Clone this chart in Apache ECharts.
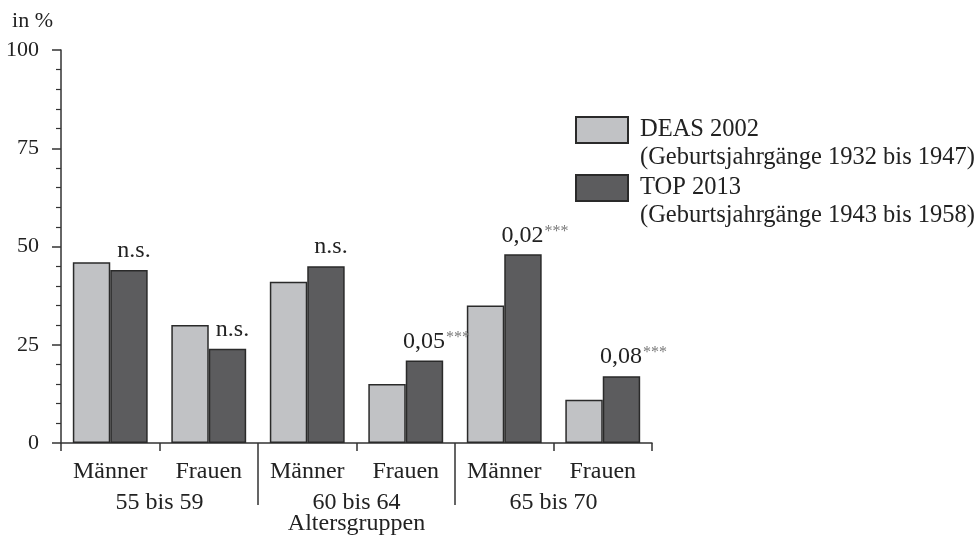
<!DOCTYPE html>
<html><head><meta charset="utf-8">
<script src="https://cdn.jsdelivr.net/npm/echarts@6/dist/echarts.min.js"></script>
<style>html,body{margin:0;padding:0;background:#fff}#c{width:979px;height:540px}</style>
</head><body><div id="c"></div>
<script>
const categories = ['Männer','Frauen','Männer','Frauen','Männer','Frauen'];
const groupLabels = ['55 bis 59','60 bis 64','65 bis 70'];
const deas2002 = [46,30,41,15,35,11];
const top2013 = [44,24,45,21,48,17];
const pValues = ['n.s.','n.s.','n.s.','0,05','0,02','0,08'];
const pStars = ['','','','***','***','***'];
const seriesNames = ['DEAS 2002','TOP 2013'];
const seriesSubtitles = ['(Geburtsjahrgänge 1932 bis 1947)','(Geburtsjahrgänge 1943 bis 1958)'];
const yTickValues = [0,25,50,75,100];

const FF = 'Liberation Serif';
const TXT = '#222';
const AX = '#333';
const perGroup = categories.length / groupLabels.length;

const chart = echarts.init(document.getElementById('c'), null, {renderer:'canvas'});
chart.setOption({
  animation:false,
  backgroundColor:'#fff',
  textStyle:{fontFamily:FF},
  grid:{left:61, right:327, top:50, bottom:97, containLabel:false, outerBoundsMode:'none'},
  legend: seriesNames.map((n,i)=>({
    data:[{name:n, icon:'rect'}], orient:'vertical', left:575, top:[88,146][i],
    itemWidth:52, itemHeight:26, padding:0, selectedMode:false,
    formatter: name => '\n' + name + '\n' + seriesSubtitles[i],
    textStyle:{fontFamily:FF, fontSize:24.5, color:TXT, lineHeight:28, padding:[0,0,0,7]}
  })),
  xAxis:[{
    type:'category', data:categories, boundaryGap:true,
    axisLine:{show:true, lineStyle:{color:AX, width:1.5}},
    axisTick:{show:true, length:8, interval:0, lineStyle:{color:AX, width:1.5}},
    axisLabel:{interval:0, margin:17, fontSize:24, color:TXT, fontFamily:FF},
    splitLine:{show:false}
  },{
    type:'value', position:'bottom', min:0, max:categories.length,
    axisLine:{show:false},
    axisTick:{show:true, length:62, customValues: groupLabels.slice(1).map((_,i)=>(i+1)*perGroup), lineStyle:{color:AX, width:1.5}},
    axisLabel:{show:true, margin:48, fontSize:24, color:TXT, fontFamily:FF,
      customValues: groupLabels.map((_,i)=>i*perGroup + perGroup/2),
      formatter: v => groupLabels[Math.round((v - perGroup/2)/perGroup)]},
    splitLine:{show:false},
    name:'Altersgruppen', nameLocation:'middle', nameGap:69, nameMoveOverlap:false,
    nameTextStyle:{fontSize:24, color:TXT, fontFamily:FF}
  }],
  yAxis:{
    type:'value', min:0, max:100, interval:25,
    name:'in %', nameLocation:'end', nameGap:18,
    nameTextStyle:{fontSize:22, color:TXT, fontFamily:FF, align:'right', padding:[0,8,0,0]},
    axisLine:{show:true, lineStyle:{color:AX, width:1.5}},
    axisTick:{show:true, length:9, lineStyle:{color:AX, width:1.5}},
    minorTick:{show:true, splitNumber:5, length:5, lineStyle:{color:AX, width:1.2}},
    splitLine:{show:false},
    axisLabel:{margin:22, fontSize:22, color:TXT, fontFamily:FF,
      formatter: v => yTickValues.includes(v) ? String(v) : ''}
  },
  series:[{
    name:seriesNames[0], type:'bar', xAxisIndex:0, data:deas2002,
    barGap:'0%', barCategoryGap:'24%',
    itemStyle:{color:'#c1c2c5', borderColor:'#2a2a2a', borderWidth:1.5}
  },{
    name:seriesNames[1], type:'bar', xAxisIndex:0,
    data: top2013.map((v,i)=>({value:v, label:{offset:[pStars[i] ? 12 : 5, 0]}})),
    barGap:'0%', barCategoryGap:'24%',
    itemStyle:{color:'#5c5c5e', borderColor:'#2a2a2a', borderWidth:1.5},
    label:{show:true, position:'top', distance:7,
      formatter: p => '{a|' + pValues[p.dataIndex] + '}' + (pStars[p.dataIndex] ? '{s|' + pStars[p.dataIndex] + '}' : ''),
      rich:{
        a:{fontSize:24, fontFamily:FF, color:TXT},
        s:{fontSize:16, fontFamily:FF, color:'#7a7a7a', verticalAlign:'top', padding:[0,0,0,1]}
      }}
  }]
});
</script></body></html>
